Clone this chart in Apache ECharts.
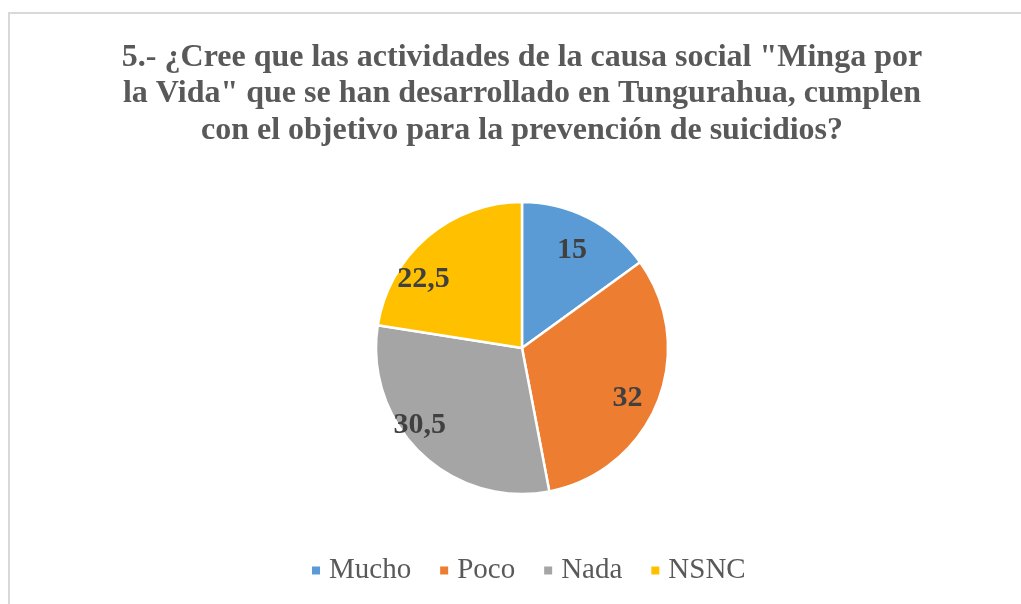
<!DOCTYPE html>
<html><head><meta charset="utf-8">
<script src="https://cdn.jsdelivr.net/npm/echarts@6/dist/echarts.min.js"></script>
<style>
html,body{margin:0;padding:0;background:#fff;}
#frame{position:absolute;left:8px;top:12px;width:1030px;height:620px;border-top:2px solid #d9d9d9;border-left:2px solid #d9d9d9;}
#c{position:absolute;left:0;top:0;width:1021px;height:604px;}
</style></head>
<body>
<div id="frame"></div>
<div id="c"></div>
<script>
const titleText = '5.- ¿Cree que las actividades de la causa social "Minga por\nla Vida" que se han desarrollado en Tungurahua, cumplen\ncon el objetivo para la prevención de suicidios?';
const categories = ['Mucho','Poco','Nada','NSNC'];
const values = [15, 32, 30.5, 22.5];
const labels = ['15','32','30,5','22,5'];
const colors = ['#5b9bd5','#ed7d31','#a5a5a5','#ffc000'];
// label nudges (style only)
const labelOffsets = [[-5,10],[-7,6],[-18,-10],[-20,23]];

const chart = echarts.init(document.getElementById('c'));
const data = categories.map((n,i)=>({name:n,value:values[i],itemStyle:{color:colors[i]}}));
const font = '"Liberation Serif","Times New Roman",serif';
chart.setOption({
  backgroundColor: 'transparent',
  animation:false,
  title:{text:titleText,left:522,textAlign:'center',top:39,padding:0,
    textStyle:{fontFamily:font,fontSize:32,fontWeight:'bold',color:'#595959',lineHeight:36.5}},
  legend:{top:556,left:310,itemWidth:10,itemHeight:10,itemGap:27,icon:'rect',padding:0,
    textStyle:{fontFamily:font,fontSize:29,color:'#595959',padding:[0,0,0,3]},
    data:categories},
  series:[
    {type:'pie',center:[522,348],radius:[0,146],startAngle:90,clockwise:true,
     label:{show:false},labelLine:{show:false},
     itemStyle:{borderColor:'#fff',borderWidth:2.5},
     emphasis:{disabled:true},data:data},
    {type:'pie',center:[522,348],radius:[90,146],startAngle:90,clockwise:true,silent:true,
     legendHoverLink:false,
     itemStyle:{color:'transparent',borderWidth:0},
     label:{show:true,position:'inside',fontFamily:font,fontSize:30,fontWeight:'bold',color:'#404040',
       formatter:p=>labels[p.dataIndex]},
     labelLine:{show:false},emphasis:{disabled:true},
     data:categories.map((n,i)=>({name:n+' ',value:values[i],label:{offset:labelOffsets[i]}}))}
  ]
});
</script>
</body></html>
